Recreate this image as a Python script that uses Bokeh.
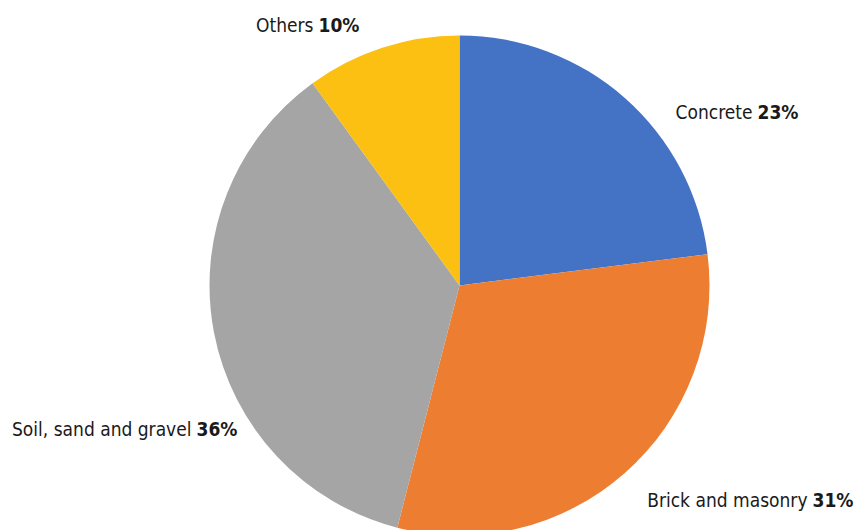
import math
from bokeh.plotting import figure
from bokeh.models import ColumnDataSource
from bokeh.core.properties import value
from bokeh.embed import file_html
from bokeh.resources import INLINE

categories = ["Concrete", "Brick and masonry", "Soil, sand and gravel", "Others"]
shares = [23, 31, 36, 10]
colors = ["#4472C4", "#ED7D31", "#A5A5A5", "#FCC012"]

W, H = 855, 530
CX, CY, R = 459, H - 285, 250

# cumulative angles, starting at 12 o'clock, clockwise
total = sum(shares)
starts, ends = [], []
acc = 0.0
for v in shares:
    a0 = math.pi / 2 - 2 * math.pi * acc / total
    acc += v
    a1 = math.pi / 2 - 2 * math.pi * acc / total
    starts.append(a0)
    ends.append(a1)

src = ColumnDataSource(dict(x=[CX] * 4, y=[CY] * 4, start=starts, end=ends, color=colors))

p = figure(width=W, height=H, x_range=(0, W), y_range=(0, H),
           output_backend="svg", toolbar_location=None, min_border=0)
p.axis.visible = False
p.grid.visible = False
p.outline_line_color = None
p.background_fill_color = "white"
p.border_fill_color = "white"

p.wedge(x="x", y="y", radius=R, radius_units="screen", start_angle="end", end_angle="start",
        direction="anticlock", fill_color="color", line_color=None, source=src)

# label anchors (pixel positions: split point between name and percentage)
label_anchor_x = [754, 809, 193, 315]
label_anchor_y = [111, 499, 428, 24]

names = categories
pcts = [f"{v}%" for v in shares]
lx = label_anchor_x
ly = [H - y for y in label_anchor_y]
font = value("DejaVu Sans Condensed")
p.text(x=lx, y=ly, text=names, text_align="right", text_baseline="middle",
       text_font=font, text_font_size="19px", text_color="#1a1a1a", x_offset=-2)
p.text(x=lx, y=ly, text=pcts, text_align="left", text_baseline="middle",
       text_font=font, text_font_size="19px", text_font_style="bold",
       text_color="#1a1a1a", x_offset=3)

open("out.html", "w").write(file_html(p, INLINE))
